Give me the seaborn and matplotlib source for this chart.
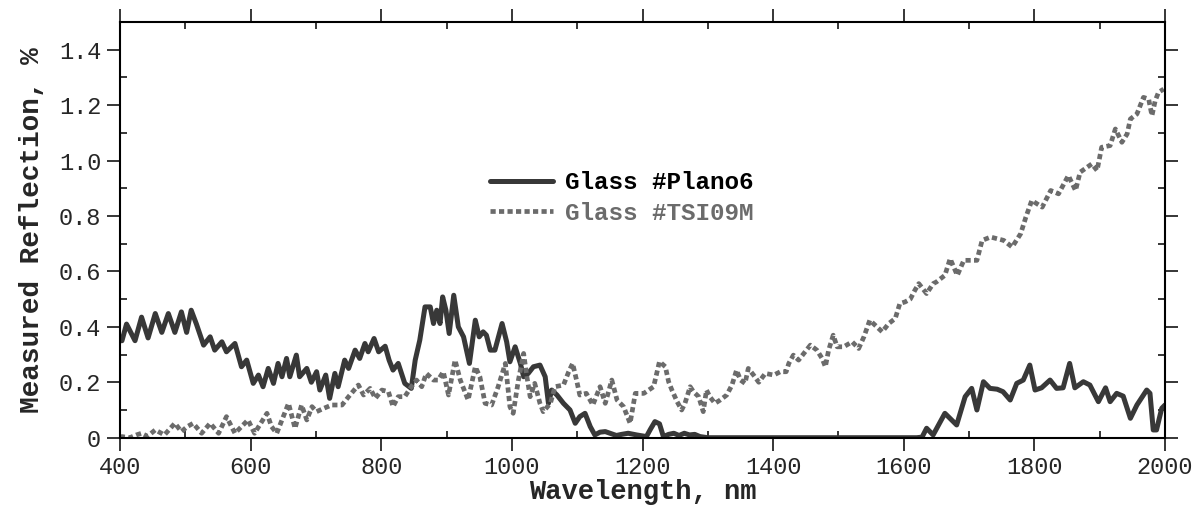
import matplotlib
matplotlib.use("Agg")
import matplotlib.pyplot as plt
import seaborn as sns
import pandas as pd
from matplotlib.ticker import MultipleLocator, FixedLocator

# ---------------- data ----------------
plano_wl = [400, 403, 410, 423, 433, 443, 454, 464, 474, 484, 494, 502, 509, 517, 528, 538, 545, 556,
            563, 576, 586, 594, 604, 612, 619, 627, 635, 642, 648, 655, 660, 670, 675, 686, 693, 701,
            706, 715, 721, 729, 734, 744, 750, 760, 767, 775, 780, 789, 796, 806, 812, 818, 826, 836,
            846, 852, 859, 867, 875, 880, 885, 890, 894, 899, 904, 911, 918, 926, 935, 944, 950, 956,
            961, 967, 974, 985, 992, 997, 1005, 1013, 1018, 1025, 1033, 1043, 1051, 1056, 1061, 1069,
            1079, 1089, 1097, 1104, 1112, 1120, 1127, 1135, 1143, 1153, 1160, 1168, 1178, 1191, 1206,
            1212, 1219, 1226, 1232, 1240, 1248, 1256, 1264, 1272, 1280, 1288, 1300, 1620, 1628, 1635,
            1645, 1663, 1681, 1694, 1704, 1712, 1722, 1732, 1743, 1752, 1763, 1773, 1783, 1793, 1801,
            1811, 1824, 1834, 1844, 1854, 1862, 1875, 1885, 1898, 1909, 1916, 1926, 1936, 1947, 1957,
            1972, 1977, 1982, 1987, 1995, 2000]
plano_refl = [0.35, 0.35, 0.41, 0.35, 0.435, 0.36, 0.448, 0.38, 0.448, 0.38, 0.454, 0.38, 0.46, 0.41,
              0.334, 0.364, 0.316, 0.346, 0.31, 0.34, 0.256, 0.28, 0.196, 0.226, 0.184, 0.25, 0.196,
              0.268, 0.22, 0.286, 0.22, 0.298, 0.22, 0.25, 0.2, 0.238, 0.172, 0.226, 0.142, 0.232,
              0.184, 0.28, 0.25, 0.316, 0.286, 0.34, 0.31, 0.358, 0.31, 0.33, 0.28, 0.244, 0.268,
              0.196, 0.178, 0.28, 0.352, 0.472, 0.472, 0.412, 0.46, 0.412, 0.508, 0.46, 0.376, 0.514,
              0.40, 0.364, 0.268, 0.424, 0.364, 0.382, 0.37, 0.316, 0.316, 0.412, 0.346, 0.274, 0.328,
              0.268, 0.22, 0.232, 0.256, 0.262, 0.22, 0.124, 0.172, 0.154, 0.124, 0.10, 0.052, 0.076,
              0.088, 0.04, 0.01, 0.02, 0.022, 0.014, 0.008, 0.012, 0.016, 0.01, 0.004, 0.03, 0.058,
              0.05, 0.004, 0.012, 0.016, 0.008, 0.016, 0.01, 0.012, 0.004, 0.0, 0.0, 0.002, 0.034,
              0.01, 0.088, 0.046, 0.148, 0.178, 0.10, 0.202, 0.178, 0.175, 0.166, 0.136, 0.196, 0.208,
              0.262, 0.172, 0.18, 0.208, 0.178, 0.18, 0.268, 0.18, 0.202, 0.19, 0.13, 0.18, 0.13, 0.16,
              0.15, 0.07, 0.118, 0.172, 0.16, 0.028, 0.028, 0.106, 0.118]

tsi_wl = [400, 403, 415, 425, 433, 442, 454, 468, 484, 494, 503, 512, 525, 538, 551, 563, 576, 586,
          596, 606, 615, 625, 632, 640, 650, 658, 668, 678, 686, 694, 701, 712, 724, 740, 750, 765,
          773, 783, 791, 801, 811, 818, 826, 836, 846, 854, 862, 869, 880, 887, 895, 903, 913, 921,
          933, 944, 951, 959, 969, 979, 990, 997, 1002, 1010, 1018, 1023, 1028, 1035, 1043, 1048,
          1059, 1066, 1079, 1087, 1093, 1099, 1104, 1114, 1124, 1135, 1143, 1153, 1161, 1171, 1181,
          1189, 1202, 1217, 1226, 1235, 1240, 1245, 1253, 1260, 1265, 1273, 1278, 1286, 1293, 1298,
          1303, 1311, 1319, 1329, 1337, 1344, 1350, 1357, 1362, 1370, 1378, 1388, 1401, 1411, 1420,
          1424, 1431, 1439, 1447, 1457, 1467, 1475, 1480, 1485, 1492, 1498, 1508, 1521, 1531, 1539,
          1548, 1559, 1567, 1577, 1587, 1594, 1602, 1610, 1617, 1623, 1635, 1645, 1650, 1663, 1671,
          1682, 1692, 1712, 1720, 1733, 1753, 1766, 1779, 1787, 1796, 1812, 1825, 1837, 1852, 1863,
          1870, 1888, 1896, 1903, 1916, 1924, 1934, 1942, 1947, 1957, 1967, 1975, 1980, 1985, 1990,
          1998]
tsi_refl = [0.0, 0.004, 0.0, 0.01, 0.016, 0.005, 0.028, 0.01, 0.052, 0.022, 0.04, 0.052, 0.016, 0.052,
            0.016, 0.076, 0.016, 0.04, 0.064, 0.016, 0.05, 0.088, 0.04, 0.016, 0.076, 0.124, 0.034,
            0.118, 0.064, 0.112, 0.094, 0.106, 0.118, 0.118, 0.148, 0.19, 0.154, 0.178, 0.142, 0.172,
            0.166, 0.112, 0.148, 0.148, 0.184, 0.208, 0.184, 0.232, 0.208, 0.208, 0.238, 0.154, 0.28,
            0.208, 0.136, 0.256, 0.22, 0.124, 0.118, 0.184, 0.268, 0.112, 0.088, 0.208, 0.304, 0.22,
            0.148, 0.196, 0.124, 0.094, 0.124, 0.184, 0.19, 0.238, 0.268, 0.208, 0.154, 0.16, 0.118,
            0.184, 0.124, 0.208, 0.136, 0.112, 0.052, 0.16, 0.16, 0.184, 0.275, 0.256, 0.202, 0.172,
            0.13, 0.10, 0.124, 0.184, 0.166, 0.148, 0.094, 0.172, 0.148, 0.124, 0.136, 0.154, 0.19,
            0.244, 0.208, 0.196, 0.25, 0.226, 0.2, 0.232, 0.226, 0.238, 0.238, 0.268, 0.298, 0.28,
            0.304, 0.334, 0.316, 0.286, 0.256, 0.316, 0.37, 0.328, 0.328, 0.346, 0.322, 0.364, 0.424,
            0.40, 0.382, 0.412, 0.43, 0.484, 0.49, 0.50, 0.532, 0.556, 0.52, 0.556, 0.562, 0.586,
            0.646, 0.586, 0.64, 0.64, 0.712, 0.724, 0.712, 0.688, 0.736, 0.796, 0.856, 0.832, 0.892,
            0.88, 0.946, 0.892, 0.958, 0.988, 0.964, 1.048, 1.054, 1.114, 1.066, 1.096, 1.15, 1.168,
            1.228, 1.222, 1.162, 1.216, 1.246, 1.258]

series_names = ["Glass #Plano6", "Glass #TSI09M"]
x_ticks = [400, 600, 800, 1000, 1200, 1400, 1600, 1800, 2000]
y_ticks = [0, 0.2, 0.4, 0.6, 0.8, 1.0, 1.2, 1.4]
y_tick_labels = ["0", "0.2", "0.4", "0.6", "0.8", "1.0", "1.2", "1.4"]

# ---------------- plot ----------------
sns.set_style("ticks")
plt.rcParams["font.family"] = ["Liberation Mono", "DejaVu Sans Mono", "DejaVu Sans"]

fig = plt.figure(figsize=(11.99, 5.05), dpi=100)
ax = fig.add_axes([120 / 1199, (505 - 437.7) / 505, 1045 / 1199, 415.7 / 505])

df_p = pd.DataFrame({"wl": plano_wl, "r": plano_refl})
df_t = pd.DataFrame({"wl": tsi_wl, "r": tsi_refl})

sns.lineplot(data=df_p, x="wl", y="r", ax=ax, color="#383838", linewidth=3.6,
             label=series_names[0], sort=True, estimator=None)
sns.lineplot(data=df_t, x="wl", y="r", ax=ax, color="#6b6b6b", linewidth=3.4,
             label=series_names[1], sort=True, estimator=None)
ax.lines[0].set_solid_joinstyle("round")
ax.lines[1].set_linestyle((0, (1.1, 0.7)))
ax.lines[1].set_dash_capstyle("butt")

ax.set_xlim(400, 2000)
ax.set_ylim(0, 1.5)
ax.xaxis.set_major_locator(FixedLocator(x_ticks))
ax.xaxis.set_minor_locator(MultipleLocator(100))
ax.set_yticks(y_ticks)
ax.set_yticklabels(y_tick_labels)
ax.yaxis.set_minor_locator(MultipleLocator(0.1))

for s in ax.spines.values():
    s.set_visible(True)
    s.set_linewidth(1.5)
    s.set_color("black")

ax.tick_params(which="major", direction="out", length=9.5, width=1.1, color="black",
               top=True, right=True, labeltop=False, labelright=False,
               labelsize=17, pad=4)
ax.tick_params(which="minor", direction="in", length=5, width=1.1, color="black",
               top=True, right=True)

ax.set_xlabel("Wavelength, nm", fontsize=19.5, fontweight="bold")
ax.set_ylabel("Measured Reflection, %", fontsize=20, fontweight="bold")
ax.xaxis.label.set_va("baseline")
ax.xaxis.set_label_coords(0.5, (437.7 - 499) / 415.7)
ax.yaxis.set_label_coords(-0.072, 0.5)

leg = ax.legend(loc="upper left", bbox_to_anchor=(0.354, 0.641), frameon=False,
                prop={"family": "Liberation Mono", "weight": "bold", "size": 17.5},
                handlelength=2.6, handletextpad=0.5, borderpad=0, borderaxespad=0,
                labelspacing=0.3)
leg.get_texts()[0].set_color("black")
leg.get_texts()[1].set_color("#6b6b6b")

fig.savefig("out.png", dpi=100)
